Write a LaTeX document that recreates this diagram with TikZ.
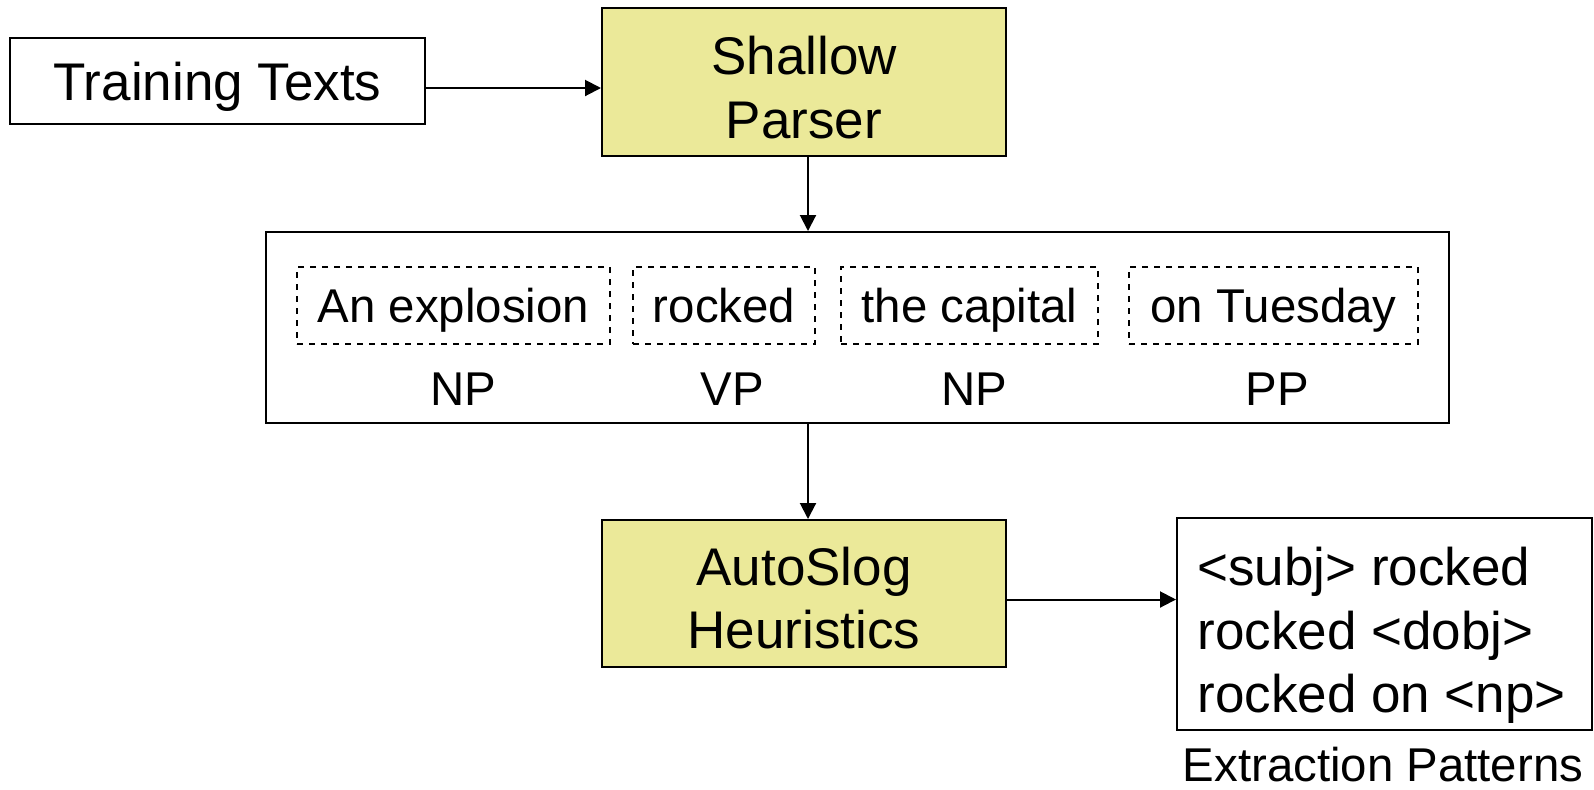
\documentclass[tikz,border=0pt]{standalone}
\usepackage{fontspec}
\setmainfont{Liberation Sans}
\usetikzlibrary{arrows.meta}
\definecolor{boxyellow}{RGB}{235,233,153}
\begin{document}
\begin{tikzpicture}[x=0.5pt,y=-0.5pt,
  bigf/.style={font=\fontsize{26.5}{31.8}\selectfont},
  smallf/.style={font=\fontsize{23.7}{28}\selectfont},
  cap1/.style={text height=19pt, text depth=0pt},
  cap2/.style={text height=50.8pt, text depth=0pt},
  cap3/.style={text height=82.6pt, text depth=0pt},
  caps/.style={text height=17pt, text depth=0pt},
  box/.style={draw=black, line width=1pt, inner sep=0pt, bigf, align=center, cap1},
  ybox/.style={box, fill=boxyellow},
  txt/.style={inner sep=0pt, bigf},
  dbox/.style={draw=black, dashed, line width=0.7pt, inner sep=0pt, smallf, caps},
  lab/.style={smallf, inner sep=0pt, caps},
  arr/.style={-{Triangle[length=8pt,width=8pt]}, line width=1pt}]
\useasboundingbox (0,0) rectangle (1594,789);

\node[box, minimum width=207.5pt, minimum height=43pt] (tt) at (217.5,81) {Training Texts};
\node[ybox, minimum width=202pt, minimum height=74pt] (sp) at (804,82) {};
\node[txt, align=center, cap2] (spt) at (804,87.5) {Shallow\\Parser};
\node[box, minimum width=591.5pt, minimum height=95.5pt] (mid) at (857.5,327.5) {};

\node[dbox, minimum width=156.5pt, minimum height=38.5pt] (d1) at (453.5,305.5) {An explosion};
\node[dbox, minimum width=91pt, minimum height=38.5pt] (d2) at (724,305.5) {rocked};
\node[dbox, minimum width=128.5pt, minimum height=38.5pt] (d3) at (969.5,305.5) {the capital};
\node[dbox, minimum width=144.5pt, minimum height=38.5pt] (d4) at (1273.5,305.5) {on Tuesday};

\node[lab] (l1) at (463,388) {NP};
\node[lab] (l2) at (732,388) {VP};
\node[lab] (l3) at (974,388) {NP};
\node[lab] (l4) at (1277,388) {PP};

\node[ybox, minimum width=202pt, minimum height=73.5pt] (as) at (804,593.5) {};
\node[txt, align=center, cap2] (ast) at (804,598) {AutoSlog\\Heuristics};
\node[box, minimum width=207.5pt, minimum height=106pt] (ex) at (1384.5,624) {};
\node[txt, align=left, cap3, anchor=west] (ext) at (1197,630) {\textless subj\textgreater{} rocked\\rocked \textless dobj\textgreater\\rocked on \textless np\textgreater};
\node[lab] (exl) at (1383,764) {Extraction Patterns};

\draw[arr] ([yshift=-3.5pt]tt.east) -- ([yshift=-3.5pt]tt.east -| sp.west);
\draw[arr] ([xshift=2pt]sp.south) -- ([xshift=2pt]sp.south |- mid.north);
\draw[arr] ([xshift=2pt]sp.south |- mid.south) -- ([xshift=2pt]as.north);
\draw[arr] ([yshift=-3pt]as.east) -- ([yshift=-3pt]as.east -| ex.west);
\end{tikzpicture}
\end{document}
